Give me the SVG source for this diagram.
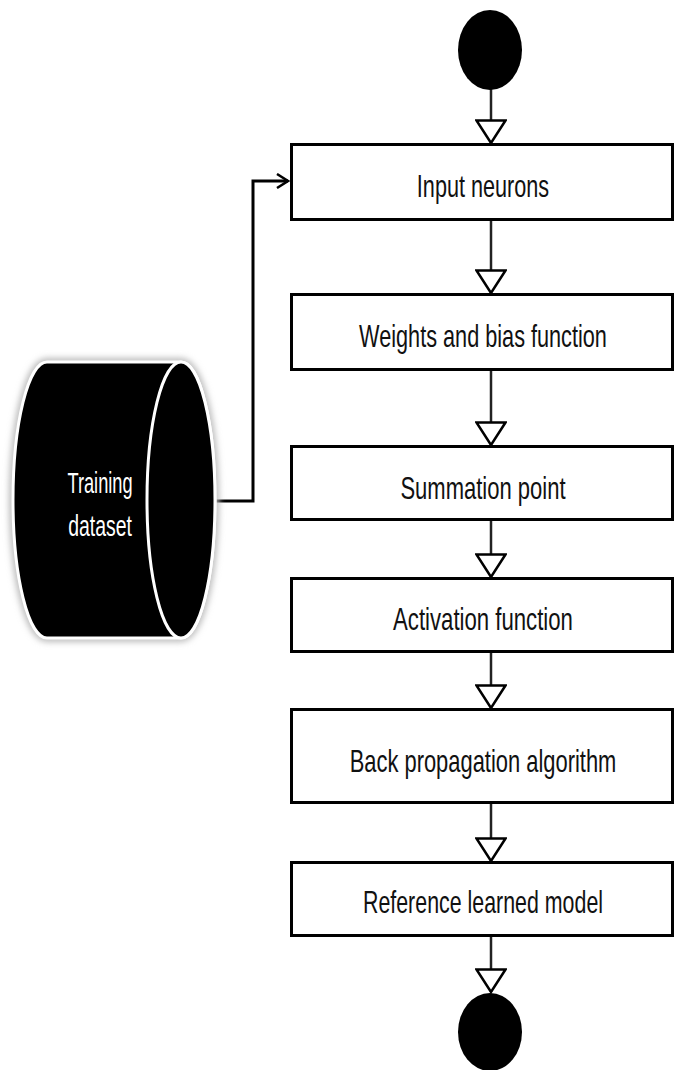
<svg xmlns="http://www.w3.org/2000/svg" width="680" height="1070" viewBox="0 0 680 1070">
<style>
.box{fill:#fff;stroke:#000;stroke-width:3}
.lbl{font-family:"Liberation Sans",Arial,sans-serif;font-size:31px;fill:#111;text-anchor:middle}
.wl{font-family:"Liberation Sans",Arial,sans-serif;font-size:29px;fill:#fff;text-anchor:middle}
.flow{fill:none;stroke:#222;stroke-width:2.5;marker-end:url(#tri)}
.term{fill:#000}
</style>
<defs>
<marker id="tri" markerUnits="userSpaceOnUse" markerWidth="26" markerHeight="32" viewBox="0 0 26 32" refX="24" refY="16" orient="auto">
<path d="M1.5,1.5 L24,16 L1.5,30.5 Z" fill="#fff" stroke="#000" stroke-width="2.5"/>
</marker>
<marker id="open" markerUnits="userSpaceOnUse" markerWidth="14" markerHeight="16" viewBox="0 0 14 16" refX="12" refY="8" orient="auto">
<path d="M1,1 L12,8 L1,15" fill="none" stroke="#000" stroke-width="2.5"/>
</marker>
<filter id="sh" x="-20%" y="-20%" width="140%" height="140%">
<feGaussianBlur stdDeviation="3"/>
</filter>
</defs>

<g id="connectors">
<polyline points="215,501 253,501 253,181 288,181" fill="none" stroke="#000" stroke-width="3" marker-end="url(#open)"/>
<line class="flow" x1="491" y1="89" x2="491" y2="143"/>
<line class="flow" x1="491" y1="220" x2="491" y2="293"/>
<line class="flow" x1="491" y1="371" x2="491" y2="445"/>
<line class="flow" x1="491" y1="521" x2="491" y2="577"/>
<line class="flow" x1="491" y1="653" x2="491" y2="708"/>
<line class="flow" x1="491" y1="804" x2="491" y2="861"/>
<line class="flow" x1="491" y1="937" x2="491" y2="992"/>
</g>

<g id="start"><ellipse class="term" cx="490" cy="50" rx="32" ry="40"/></g>

<g id="n1"><rect class="box" x="291.5" y="144.5" width="381" height="75"/><text class="lbl" transform="translate(483,197) scale(0.7,1)" textLength="189" lengthAdjust="spacingAndGlyphs">Input neurons</text></g>
<g id="n2"><rect class="box" x="291.5" y="294.5" width="381" height="75"/><text class="lbl" transform="translate(483,347) scale(0.7,1)" textLength="354" lengthAdjust="spacingAndGlyphs">Weights and bias function</text></g>
<g id="n3"><rect class="box" x="291.5" y="446.5" width="381" height="73"/><text class="lbl" transform="translate(483,499) scale(0.7,1)" textLength="236" lengthAdjust="spacingAndGlyphs">Summation point</text></g>
<g id="n4"><rect class="box" x="291.5" y="578.5" width="381" height="73"/><text class="lbl" transform="translate(483,630) scale(0.7,1)" textLength="257" lengthAdjust="spacingAndGlyphs">Activation function</text></g>
<g id="n5"><rect class="box" x="291.5" y="709.5" width="381" height="93"/><text class="lbl" transform="translate(483,772) scale(0.7,1)" textLength="381" lengthAdjust="spacingAndGlyphs">Back propagation algorithm</text></g>
<g id="n6"><rect class="box" x="291.5" y="862.5" width="381" height="73"/><text class="lbl" transform="translate(483,913) scale(0.7,1)" textLength="343" lengthAdjust="spacingAndGlyphs">Reference learned model</text></g>

<g id="end"><ellipse class="term" cx="490" cy="1032" rx="32" ry="39"/></g>

<g id="dataset">
<path d="M47,362 L181,362 A34,138 0 0 1 181,638 L47,638 A34,138 0 0 1 47,362 Z" fill="none" stroke="#bbb" stroke-width="8" filter="url(#sh)"/>
<path d="M47,362 L181,362 A34,138 0 0 1 181,638 L47,638 A34,138 0 0 1 47,362 Z" fill="#000" stroke="#fff" stroke-width="3"/>
<ellipse cx="181" cy="500" rx="34" ry="138" fill="#000" stroke="#fff" stroke-width="3"/>
<text class="wl" transform="translate(100,493) scale(0.7,1)" textLength="93" lengthAdjust="spacingAndGlyphs">Training</text>
<text class="wl" transform="translate(100,536) scale(0.7,1)" textLength="91" lengthAdjust="spacingAndGlyphs">dataset</text>
</g>
</svg>
